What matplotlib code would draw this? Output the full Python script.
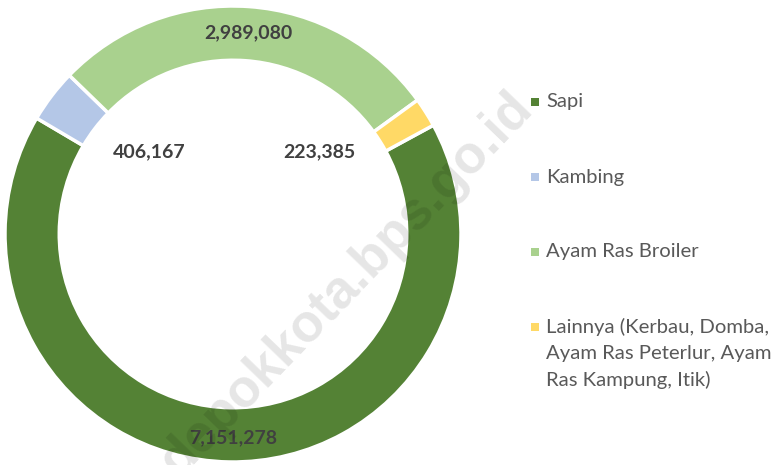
import matplotlib
matplotlib.use("Agg")
import matplotlib.pyplot as plt
from matplotlib.patches import Rectangle

categories = ["Sapi", "Kambing", "Ayam Ras Broiler",
              "Lainnya (Kerbau, Domba,\nAyam Ras Peterlur, Ayam\nRas Kampung, Itik)"]
values = [7151278, 406167, 2989080, 223385]
value_labels = ["7,151,278", "406,167", "2,989,080", "223,385"]
colors = ["#548235", "#B4C7E7", "#A9D18E", "#FFD966"]
# data label positions (in pie data units)
label_pos = [(0.0, -0.895), (-0.368, 0.36), (0.066, 0.882), (0.377, 0.36)]
watermark = "depokkota.bps.go.id"

plt.rcParams['font.family'] = ['Lato', 'DejaVu Sans']

fig = plt.figure(figsize=(7.8, 4.65), dpi=100)
W, H = 780, 465
cx, cy, R = 233, 234, 228
ax = fig.add_axes([(cx - R) / W, (H - cy - R) / H, 2 * R / W, 2 * R / H])

wedges, _ = ax.pie(values, colors=colors, startangle=28.5, counterclock=False,
                   radius=1.0, wedgeprops=dict(width=0.238, edgecolor='white', linewidth=2.5))
ax.set_xlim(-1, 1)
ax.set_ylim(-1, 1)
ax.set_aspect('equal')
ax.axis('off')

for txt, (x, y) in zip(value_labels, label_pos):
    ax.text(x, y, txt, ha='center', va='center', fontsize=14, fontweight='bold',
            color='#404040')

# legend
leg_y = [102, 177, 252, 327]
for cat, col, y in zip(categories, colors, leg_y):
    fig.patches.append(Rectangle((531 / W, (H - y - 4) / H), 8 / W, 8 / H,
                                 transform=fig.transFigure, facecolor=col, edgecolor='none'))
    for i, line in enumerate(cat.split('\n')):
        fig.text(546 / W, (H - y - i * 26.5) / H, line, ha='left', va='center',
                 fontsize=14.6, color='#595959')

# watermark
fig.text(347 / W, (H - 284) / H, watermark, ha='center', va='center', rotation=46,
         fontsize=38, fontweight='bold', color='black', alpha=0.1,
         family=['Liberation Sans', 'DejaVu Sans'], zorder=10)

fig.savefig('out.png', dpi=100)
